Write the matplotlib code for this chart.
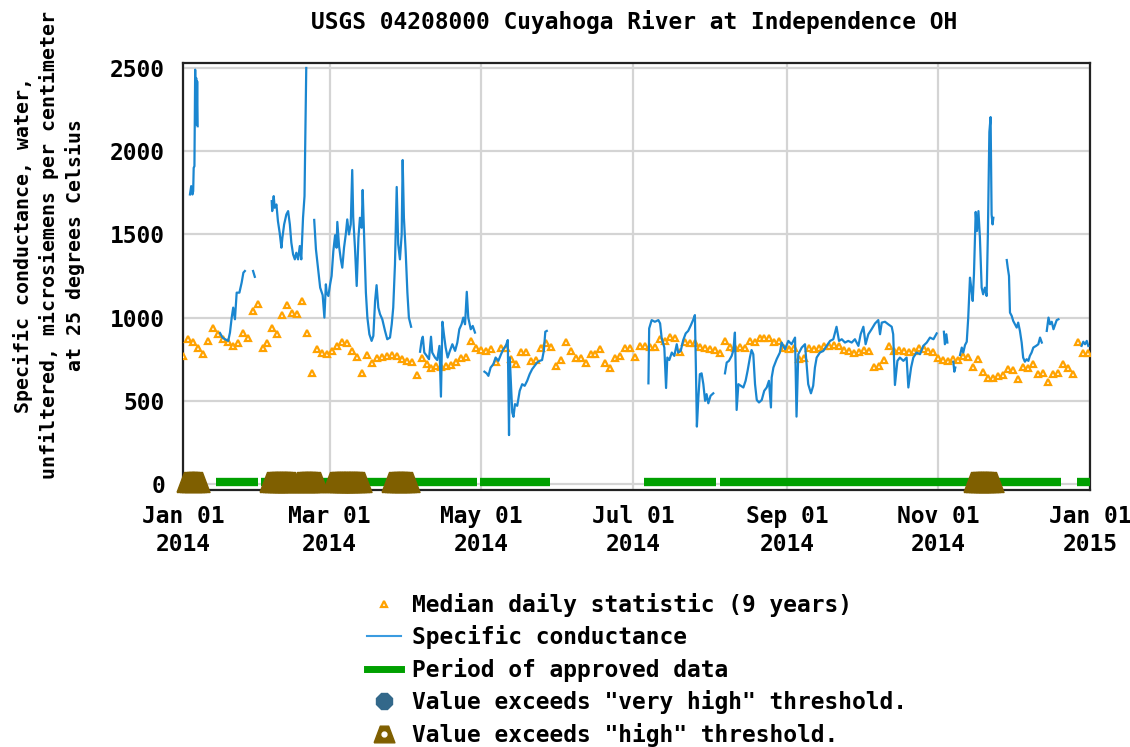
import numpy as np
import matplotlib
matplotlib.use('Agg')
import matplotlib.pyplot as plt
from matplotlib.lines import Line2D
from matplotlib.legend_handler import HandlerTuple

plt.rcParams['font.family'] = ['DejaVu Sans Mono']
plt.rcParams['font.weight'] = 'bold'
FS = 16.5

# day of year 2014 (0 = Jan 01)
median_days = list(range(0, 366, 2))
median_vals = [
    770, 870, 855, 820, 780, 860, 935, 900, 870, 855,
    830, 850, 910, 880, 1040, 1080, 820, 850, 935, 900,
    1015, 1075, 1030, 1020, 1100, 910, 670, 810, 790, 780,
    800, 830, 855, 850, 800, 765, 670, 775, 725, 760,
    765, 770, 775, 770, 750, 740, 735, 655, 760, 720,
    695, 710, 705, 710, 715, 735, 760, 765, 860, 820,
    805, 800, 810, 735, 815, 815, 750, 720, 795, 795,
    740, 745, 820, 850, 825, 710, 745, 855, 800, 760,
    760, 730, 780, 780, 810, 730, 695, 760, 770, 815,
    815, 765, 830, 830, 825, 825, 870, 860, 885, 880,
    795, 855, 850, 850, 825, 820, 810, 805, 790, 860,
    825, 820, 825, 820, 860, 855, 880, 875, 875, 855,
    860, 815, 810, 820, 750, 755, 815, 810, 815, 830,
    830, 835, 830, 805, 800, 790, 795, 805, 800, 705,
    710, 745, 830, 800, 805, 800, 795, 800, 815, 810,
    800, 795, 755, 745, 740, 750, 745, 770, 765, 705,
    750, 675, 640, 635, 650, 655, 690, 685, 630, 705,
    700, 720, 660, 665, 615, 660, 665, 720, 700, 660,
    855, 785, 790,
]

nan = np.nan
# specific conductance, nan separates gaps in the record
sc_days = [
    2.8, 3.3, 3.8, 4.1, 4.3, 4.6, 4.9, 5.1, 5.3, 5.5, 5.7, 5.9, nan,
    14.9, 15.9, 16.9, 18.2, 18.9, 19.6, 20.2, 20.9, 21.6, 22.7, 23.6, 24.3, 24.9, nan,
    28.2, 28.9, nan,
    35.7, 35.9, 36.5, 36.9, 37.6, 38.2, 38.9, 39.6, 40.0, 40.7, 41.6, 42.3, 43.0,
    43.6, 44.3, 45.0, 45.6, 46.3, 47.0, 47.6, 48.3, 48.9, 49.6, nan,
    52.8, 53.5, 54.5, 55.2, 56.2, 56.9, 57.5, 57.8, 58.5, 59.2,
    59.8, 60.5, 61.2, 61.8, 62.1, 62.8, 63.5, 64.1, 64.8, 65.5,
    66.1, 66.8, 67.5, 68.1, 68.5, 69.2, 69.9, 70.6, 71.2, 71.9,
    72.3, 73.0, 73.6, 74.2, 75.0, 75.9, 76.6, 77.3, 77.9, 78.6,
    79.3, 80.2, 81.3, 82.2, 83.3, 84.0, 84.6, 85.3, 86.0, 86.6,
    87.3, 88.0, 88.4, 88.9, 89.6, 90.3, 90.9, 91.8, nan,
    95.4, 96.0, 96.5, 97.1, 98.1, 99.0, 99.8, 100.3, 101.4, 102.3,
    103.2, 103.8, 104.4, 105.0, 105.7, 106.5, 107.4, 108.4, 109.5, 110.4,
    111.2, 112.1, 112.8, 113.5, 114.2, 114.8, 115.8, 116.6, 117.5, nan,
    121.3, 122.2, 122.9, 123.8, 124.9, 125.8, 126.9, 128.0, 128.9, 129.9,
    130.7, 131.2, 131.5, 132.5, 133.0, 133.6, 134.5, 135.5, 136.5, 137.5,
    138.5, 139.5, 140.5, 141.5, 142.5, 143.5, 144.5, 145.2, 145.8, 146.4, nan,
    187.3, 187.6, 188.6, 189.9, 191.3, 192.0, 192.6, 193.7, 194.4, 194.9,
    195.7, 196.7, 197.7, 198.7, 199.3, 200.3, 201.3, 202.3, 203.3, 204.4,
    205.4, 206.0, 206.4, 206.8, 207.4, 208.0, 208.7, 209.4, 210.1, 210.7,
    211.4, 212.3, 213.4, nan,
    218.1, 218.8, 219.7, 220.8, 221.5, 222.1, 222.8, 223.5, 224.5, 225.5, 226.4,
    227.2, 228.2, 228.8, 229.5, 230.2, 230.9, 231.8, 232.9, 233.9, 234.9,
    235.8, 236.6, 236.9, 237.6, 238.9, 240.2, 240.9, 242.3, 243.6, 244.9,
    246.3, 246.9, 247.6, 249.0, 250.3, 251.6, 252.7, 253.6, 254.3, 255.0,
    256.3, 257.7, 259.0, 260.4, 261.7, 263.0, 264.0, 265.1, 266.4, 267.7,
    269.1, 270.4, 271.8, 272.7, 273.8, 274.7, 275.8, 277.1, 278.5, 279.8,
    280.5, 281.2, 282.5, 283.8, 285.2, 285.8, 286.5, 287.5, 288.5, 289.9,
    291.2, 291.9, 293.0, 293.9, 295.2, 296.6, 297.9, 299.3, 300.6, 302.0, 303.3, nan,
    306.2, 306.6, 307.2, 307.6, nan,
    310.0, 310.4, 310.8, nan,
    312.7, 313.4, 314.0, 314.7, 315.4, 316.0, 316.7, 317.2, 317.8, 318.3,
    319.0, 319.5, 320.1, 320.7, 321.4, 322.0, 322.7, 323.4, 323.9, 324.5,
    325.0, 325.4, 325.8, 326.1, nan,
    331.5, 331.9, 332.4, 332.8, 333.5, 334.1, 334.8, 335.5, 336.1, 336.8,
    337.5, 338.1, 338.8, 339.5, 340.2, 340.8, 341.5, 342.2, 343.3, 344.2,
    344.9, 345.6, nan,
    347.6, 348.3, 348.9, 349.6, 350.3, 351.0, 351.6, 352.3, nan,
    361.6, 362.3, 363.0, 363.7, 364.3,
]
sc_vals = [
    1740, 1790, 1740, 1760, 1900, 1910, 2490, 2180, 2440, 2160, 2420, 2150, nan,
    907, 880, 870, 860, 910, 1000, 1060, 990, 1150, 1150, 1210, 1270, 1280, nan,
    1280, 1245, nan,
    1700, 1640, 1730, 1660, 1680, 1580, 1510, 1420, 1480, 1560, 1620, 1640, 1560,
    1450, 1380, 1350, 1390, 1350, 1430, 1350, 1600, 1730, 2500, nan,
    1587, 1410, 1275, 1180, 1135, 1000, 1200, 1150, 1130, 1200,
    1250, 1400, 1495, 1420, 1575, 1430, 1350, 1300, 1420, 1500,
    1590, 1500, 1560, 1887, 1600, 1420, 1190, 1480, 1600, 1540,
    1767, 1430, 1150, 1000, 900, 860, 890, 1100, 1195, 1060,
    1020, 990, 920, 870, 880, 960, 1060, 1320, 1785, 1440,
    1350, 1500, 1947, 1600, 1400, 1150, 1000, 945, nan,
    795, 860, 885, 790, 770, 750, 885, 790, 760, 745,
    830, 525, 975, 900, 820, 760, 800, 840, 800, 850,
    930, 960, 1000, 960, 1155, 1000, 930, 950, 910, nan,
    675, 665, 650, 700, 720, 760, 740, 780, 810, 830,
    865, 294, 760, 430, 404, 480, 470, 560, 600, 590,
    620, 660, 690, 710, 730, 740, 745, 800, 915, 920, nan,
    605, 935, 985, 975, 985, 965, 880, 820, 577, 760,
    745, 790, 770, 840, 790, 800, 865, 905, 920, 955,
    990, 1015, 700, 345, 520, 660, 665, 600, 500, 540,
    485, 530, 545, nan,
    665, 730, 740, 770, 805, 910, 445, 600, 590, 580, 620,
    680, 765, 805, 780, 600, 505, 490, 505, 560, 580,
    620, 460, 640, 700, 750, 790, 850, 810, 860, 840,
    880, 405, 780, 820, 840, 600, 545, 590, 700, 760,
    790, 800, 830, 860, 870, 945, 860, 870, 850, 860,
    850, 870, 830, 900, 945, 840, 900, 930, 965, 985,
    900, 970, 975, 960, 945, 900, 595, 740, 760, 740,
    760, 580, 700, 760, 790, 780, 830, 850, 880, 870, 905, nan,
    915, 840, 900, 850, nan,
    735, 675, 700, nan,
    775, 820, 790, 835, 855, 1000, 1240, 1180, 1100, 1260,
    1635, 1520, 1640, 1480, 1180, 1140, 1180, 1130, 1500, 2115,
    2205, 1620, 1560, 1600, nan,
    1346, 1300, 1250, 1030, 1010, 980, 960, 940, 970, 920,
    850, 760, 735, 750, 740, 770, 790, 820, 830, 840,
    880, 850, nan,
    920, 1000, 960, 975, 930, 960, 985, 990, nan,
    830, 855, 840, 860, 830,
]
assert len(sc_days) == len(sc_vals)
assert len(median_days) == len(median_vals)

# periods of approved data (start/end day)
approved_start = [13.1, 31.5, 119.5, 185.6, 216.1, 359.6]
approved_end = [30.1, 118.2, 147.7, 214.4, 353.5, 365.0]

# days with values above the "high" threshold
high_days = [2.5, 3.5, 4.5, 5.5,
             36, 37, 38, 39, 40, 41, 42, 43,
             48, 49, 50, 51, 52, 53,
             61, 62, 63, 64, 65, 66, 67, 68, 69, 70, 71,
             85, 86, 87, 88, 89, 90,
             319, 320, 321, 322, 323, 324, 325]

tick_days = [0, 59, 120, 181, 243, 304, 365]
tick_labels = ['Jan 01\n2014', 'Mar 01\n2014', 'May 01\n2014', 'Jul 01\n2014',
               'Sep 01\n2014', 'Nov 01\n2014', 'Jan 01\n2015']
y_ticks = [0, 500, 1000, 1500, 2000, 2500]

BLUE = '#1a86d0'
ORANGE = '#ffa200'
GREEN = '#00a000'
BROWN = '#7f5f00'
VHIGH = '#33688a'

fig = plt.figure(figsize=(11.3, 7.47), dpi=100)
ax = fig.add_axes([183 / 1130, 1 - 490 / 747, 907 / 1130, 427 / 747])

# trapezoid shaped marker for the threshold flags
trap = [(-1, -0.8), (1, -0.8), (0.4, 0.8), (-0.4, 0.8), (-1, -0.8)]

ax.hlines([12] * len(approved_start), approved_start, approved_end,
          color=GREEN, lw=6, zorder=3)
ax.plot(high_days, [14] * len(high_days), ls='', marker=trap, ms=18,
        color=BROWN, mec=BROWN, zorder=4, clip_on=False)
ax.plot(median_days, median_vals, ls='', marker='^', ms=5, mfc='white',
        mec=ORANGE, mew=1.6, zorder=5)
ax.plot(sc_days, sc_vals, color=BLUE, lw=1.6, zorder=6)

ax.set_xlim(0, 365)
ax.set_ylim(-36, 2530)
ax.set_xticks(tick_days)
ax.set_xticklabels(tick_labels, fontsize=FS, linespacing=1.25)
ax.set_yticks(y_ticks)
ax.set_yticklabels([str(v) for v in y_ticks], fontsize=FS)
ax.tick_params(length=0)
ax.tick_params(axis='y', pad=13)
ax.tick_params(axis='x', pad=11)
ax.grid(True, color='#d4d4d4', lw=1.6, zorder=0)
ax.set_axisbelow(True)
for s in ax.spines.values():
    s.set_color('#222222')
    s.set_linewidth(1.6)

fig.text(634 / 1130, 1 - 22 / 747, 'USGS 04208000 Cuyahoga River at Independence OH',
         ha='center', va='center', fontsize=FS)
fig.text(49 / 1130, 1 - 245 / 747,
         'Specific conductance, water,\nunfiltered, microsiemens per centimeter\nat 25 degrees Celsius',
         rotation=90, ha='center', va='center', fontsize=14.3, linespacing=1.4,
         multialignment='center')

h_med = Line2D([], [], ls='', marker='^', ms=5, mfc='white', mec=ORANGE, mew=1.6)
h_sc = Line2D([], [], color='#3a9be0', lw=1.5)
h_ok = Line2D([], [], color=GREEN, lw=5)
h_vh = Line2D([], [], ls='', marker='8', ms=12, color=VHIGH)
h_hi = (Line2D([], [], ls='', marker=trap, ms=15, color=BROWN),
        Line2D([], [], ls='', marker='o', ms=3.5, color='white'))
fig.legend([h_med, h_sc, h_ok, h_vh, h_hi],
           ['Median daily statistic (9 years)', 'Specific conductance',
            'Period of approved data', 'Value exceeds "very high" threshold.',
            'Value exceeds "high" threshold.'],
           handler_map={tuple: HandlerTuple(ndivide=1)},
           loc='upper left', bbox_to_anchor=(367 / 1130, 1 - 593 / 747),
           frameon=False, fontsize=FS, handlelength=1.5, handletextpad=0.45,
           labelspacing=0.37, borderpad=0, borderaxespad=0)

fig.savefig('out.png', dpi=100)
